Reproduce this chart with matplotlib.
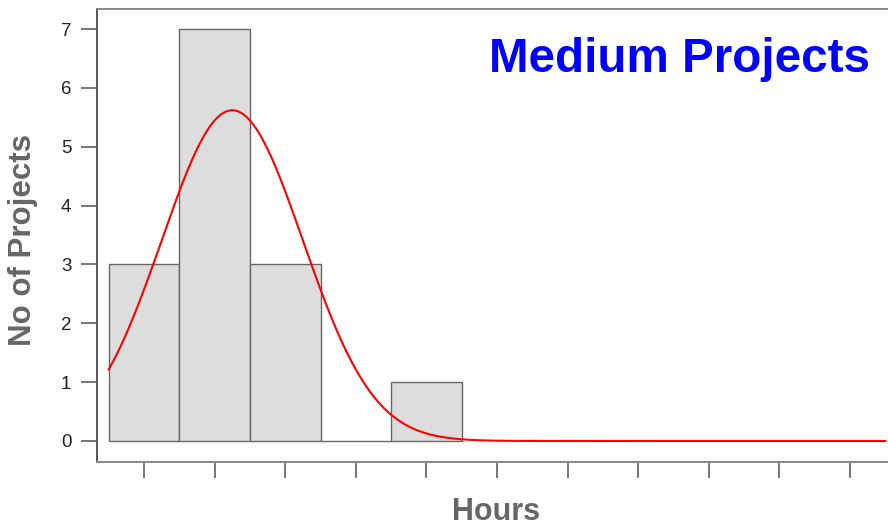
import numpy as np
import matplotlib
matplotlib.use("Agg")
import matplotlib.pyplot as plt

# histogram bins (centred on the ticks) and counts
bin_centers = [0, 1, 2, 3, 4]
counts = [3, 7, 3, 0, 1]

# fitted normal curve, parameters
fit_mean = 1.25
fit_sd = 1.0
fit_peak = 5.62
fit_range = (-0.5, 10.5)

x_ticks = list(range(0, 11))
y_ticks = list(range(0, 8))

plt.rcParams["font.family"] = ["Liberation Sans", "DejaVu Sans"]

fig = plt.figure(figsize=(8.88, 5.27), dpi=100)
ax = fig.add_axes([97 / 888, 65 / 527, 791 / 888, 453 / 527])

ax.bar(bin_centers, counts, width=1.0, color="#dddddd",
       edgecolor="#666666", linewidth=1.0, zorder=2)

xs = np.linspace(fit_range[0], fit_range[1], 600)
ys = fit_peak * np.exp(-(xs - fit_mean) ** 2 / (2 * fit_sd ** 2))
ax.plot(xs, ys, color="red", linewidth=1.5, zorder=3)

ax.set_xlim(-0.666, 10.538)
ax.set_ylim(-0.357, 7.34)
ax.set_xticks(x_ticks)
ax.set_xticklabels([])
ax.set_yticks(y_ticks)

ax.spines["right"].set_visible(False)
ax.spines["left"].set_color("#555555")
ax.spines["bottom"].set_color("#888888")
ax.spines["top"].set_color("#888888")
for s in ax.spines.values():
    s.set_linewidth(1.4)

ax.tick_params(axis="both", direction="out", length=11.5, width=1.4,
               color="#777777", labelsize=13.5, labelcolor="#222222")
ax.tick_params(axis="y", pad=7)

fig.text(23 / 888, 1 - 240 / 527, "No of Projects", rotation=90,
         ha="center", va="center", fontsize=22.5, fontweight="bold",
         color="#666666")
fig.text(496 / 888, 1 - 512 / 527, "Hours", ha="center", va="center",
         fontsize=22, fontweight="bold", color="#666666")
fig.text(870 / 888, 1 - 72 / 527, "Medium Projects", ha="right",
         va="baseline", fontsize=34.3, fontweight="bold", color="#0000ff")

fig.savefig("out.png", dpi=100)
